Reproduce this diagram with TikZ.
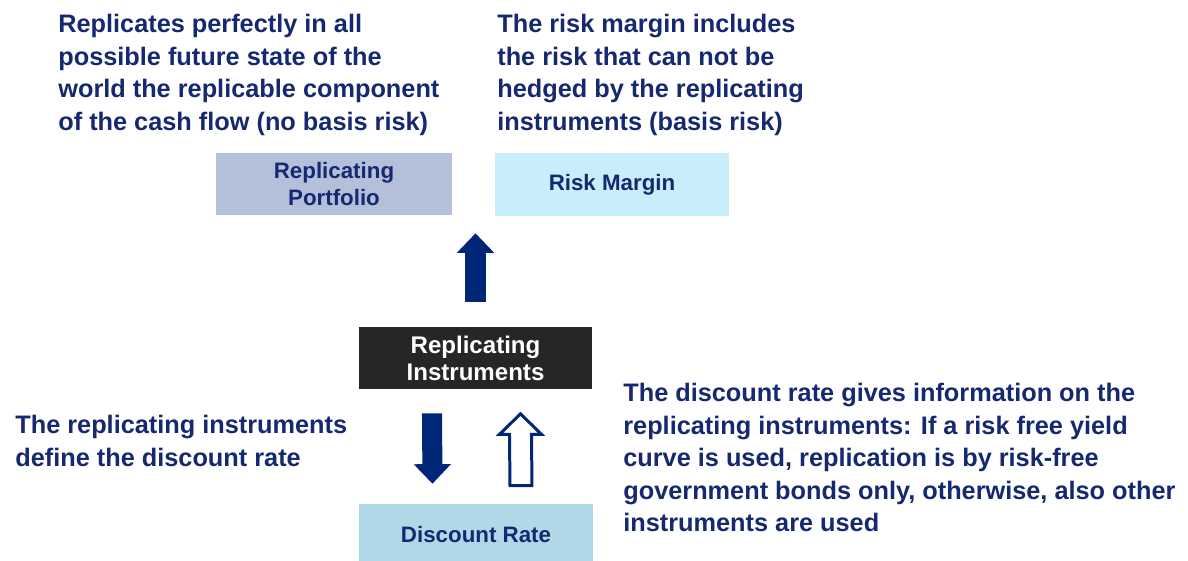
\documentclass[tikz,border=0pt]{standalone}
\usepackage{fontspec}
\setmainfont{Liberation Sans}
\usepackage{tikz}
\usetikzlibrary{arrows.meta,calc}
\definecolor{navy}{RGB}{0,38,120}
\definecolor{inktext}{RGB}{22,40,112}
\definecolor{portblue}{RGB}{180,192,218}
\definecolor{riskcyan}{RGB}{200,238,252}
\definecolor{instrgray}{RGB}{38,38,38}
\definecolor{rateblue}{RGB}{176,216,230}
\tikzset{
  font={\fontsize{14.4pt}{18.5pt}\selectfont\bfseries},
  note/.style={anchor=north west, align=left, inner sep=0pt, text=inktext},
  box/.style={inner sep=0pt, align=center, text=inktext,
    font={\fontsize{12.7pt}{15.3pt}\selectfont\bfseries}},
  solidarrow/.style={navy, line width=11.4pt,
    -{Triangle[width=21.3pt, length=11.1pt, line width=0pt]}},
  hollowarrow/.style={draw=navy, fill=white, line width=1.7pt, line join=miter}}

\begin{document}
\begin{tikzpicture}[scale=0.2]
\useasboundingbox (0,0) rectangle (118.8,-56.1);
\node [note] (repltext) at (5.8,-1.4) {Replicates perfectly in all\\possible future state of the\\world the replicable component\\of the cash flow (no basis risk)};
\node [note] (risktext) at (49.7,-1.4) {The risk margin includes\\the risk that can not be\\hedged by the replicating\\instruments (basis risk)};
\node [note] (definetext) at (1.5,-41.5) {The replicating instruments\\define the discount rate};
\node [note] (infotext) at (62.3,-38.3) {The discount rate gives information on the\\replicating instruments: If a risk free yield\\curve is used, replication is by risk-free\\government bonds only, otherwise, also other\\instruments are used};
\node [box, fill=portblue, minimum width=4.72cm, minimum height=1.24cm] (port) at (33.4,-18.4) {Replicating\\Portfolio};
\node [box, fill=riskcyan, minimum width=4.68cm, minimum height=1.26cm] (risk) at (61.2,-18.45) {Risk Margin};
\node [box, fill=instrgray, text=white, minimum width=4.66cm, minimum height=1.24cm,
  font={\fontsize{13.7pt}{15.4pt}\selectfont\bfseries}] (instr) at (47.55,-35.8) {Replicating\\Instruments};
\node [box, fill=rateblue, minimum width=4.68cm, minimum height=1.24cm] (rate) at (47.6,-53.5) {Discount Rate};
\draw [solidarrow] ($(instr.north)+(0,2.5)$) -- ($(instr.north |- port.south)+(0,-1.8)$);
\draw [solidarrow] ($(instr.south)+(-4.35,-2.4)$) -- ($(rate.north)+(-4.35,2.0)$);
\coordinate (ht) at ($(instr.south)+(4.5,-2.45)$);
\coordinate (hf) at ($(rate.north)+(4.5,1.8)$);
\draw [hollowarrow] (ht) -- ++(2.1,-2.05) -- ++(-1,0) -- ($(hf)+(1.1,0)$) -- ($(hf)+(-1.1,0)$) -- ($(ht)+(-1.1,-2.05)$) -- ++(-1,0) -- cycle;
\end{tikzpicture}
\end{document}
